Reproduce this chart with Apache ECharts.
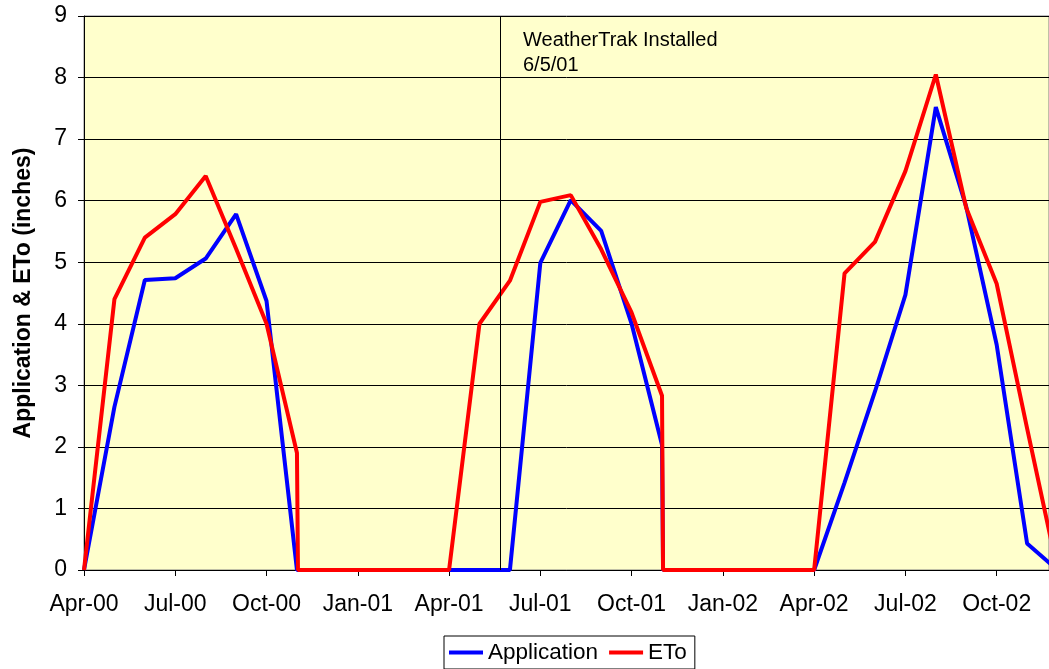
<!DOCTYPE html>
<html>
<head>
<meta charset="utf-8">
<script src="https://cdn.jsdelivr.net/npm/echarts@6/dist/echarts.min.js"></script>
<style>
  html, body { margin: 0; padding: 0; background: #fff; }
  #main { width: 1049px; height: 669px; }
</style>
</head>
<body>
<div id="main"></div>
<script>
// reading dates (a second date right after a reading marks the drop to zero)
var dates = [
  '2000-04-01', '2000-05-01', '2000-06-01', '2000-07-01', '2000-08-01', '2000-09-01',
  '2000-10-01', '2000-11-01', '2000-11-02', '2000-12-01', '2001-01-01', '2001-02-01',
  '2001-03-01', '2001-04-01', '2001-05-01', '2001-06-01', '2001-07-01', '2001-08-01',
  '2001-09-01', '2001-10-01', '2001-11-01', '2001-11-02', '2001-12-01', '2002-01-01',
  '2002-02-01', '2002-03-01', '2002-04-01', '2002-05-01', '2002-06-01', '2002-07-01',
  '2002-08-01', '2002-09-01', '2002-10-01', '2002-11-01', '2002-12-01'
];
var application = [
  0, 2.65, 4.71, 4.74, 5.06, 5.78,
  4.37, 0, 0, 0, 0, 0,
  0, 0, 0, 0, 4.99, 6.01,
  5.51, 4.0, 2.03, 0, 0, 0,
  0, 0, 0, 1.42, 2.9, 4.47,
  7.52, 5.9, 3.66, 0.43, 0
];
var eto = [
  0, 4.4, 5.4, 5.78, 6.4, 5.22,
  4.0, 1.9, 0, 0, 0, 0,
  0, 0, 4.0, 4.7, 5.98, 6.09,
  5.21, 4.18, 2.83, 0, 0, 0,
  0, 0, 0, 4.82, 5.33, 6.48,
  8.05, 5.88, 4.65, 2.3, 0
];
var tickLabels = ['Apr-00', 'Jul-00', 'Oct-00', 'Jan-01', 'Apr-01', 'Jul-01',
                  'Oct-01', 'Jan-02', 'Apr-02', 'Jul-02', 'Oct-02'];
var installDate = '2001-05-21';

// months since Apr-00
function monthPos(s) {
    var p = s.split('-');
    return (+p[0] - 2000) * 12 + (+p[1] - 4) + (+p[2] - 1) / 30;
}
function pairs(vals) {
    return vals.map(function (v, i) { return [monthPos(dates[i]), v]; });
}

var font = 'Liberation Sans';
var myChart = echarts.init(document.getElementById('main'));

var option = {
    animation: false,
    textStyle: { fontFamily: font },
    grid: {
        left: 84, right: 0, top: 16, bottom: 99,
        show: true,
        backgroundColor: '#FFFFCC',
        borderColor: '#808080',
        borderWidth: 1
    },
    legend: {
        left: 444, top: 636,
        padding: [5, 8, 5, 5],
        borderColor: '#000', borderWidth: 1,
        backgroundColor: '#fff',
        itemWidth: 34, itemHeight: 4, itemGap: 11,
        icon: 'rect',
        textStyle: { fontSize: 22.5, color: '#000', fontFamily: font },
        data: ['Application', 'ETo']
    },
    xAxis: {
        type: 'value',
        min: 0, max: 31.72, interval: 3,
        axisLine: { lineStyle: { color: '#000' } },
        axisTick: { show: true, length: 6, lineStyle: { color: '#000' } },
        splitLine: { show: false },
        axisLabel: {
            fontSize: 23, color: '#000', margin: 23, showMaxLabel: false,
            formatter: function (v) { return tickLabels[Math.round(v / 3)] || ''; }
        }
    },
    yAxis: {
        type: 'value',
        min: 0, max: 9, interval: 1,
        name: 'Application & ETo (inches)',
        nameLocation: 'middle',
        nameGap: 49,
        nameTextStyle: { fontSize: 23, fontWeight: 'bold', color: '#000', fontFamily: font },
        axisLine: { show: true, lineStyle: { color: '#000' } },
        axisTick: { show: true, length: 6, lineStyle: { color: '#000' } },
        splitLine: { lineStyle: { color: '#000', width: 1 } },
        axisLabel: { fontSize: 23, color: '#000', margin: 17 }
    },
    graphic: [{
        type: 'text',
        left: 523, top: 28,
        style: {
            text: 'WeatherTrak Installed\n6/5/01',
            font: '20px "Liberation Sans"',
            lineHeight: 25,
            fill: '#000'
        }
    }],
    series: [
        {
            name: 'Application',
            type: 'line',
            data: pairs(application),
            showSymbol: false,
            color: '#0000FF',
            lineStyle: { width: 4, color: '#0000FF' },
            markLine: {
                silent: true,
                symbol: 'none',
                label: { show: false },
                lineStyle: { color: '#000', width: 1, type: 'solid' },
                data: [{ xAxis: monthPos(installDate) }]
            }
        },
        {
            name: 'ETo',
            type: 'line',
            data: pairs(eto),
            showSymbol: false,
            color: '#FF0000',
            lineStyle: { width: 4, color: '#FF0000' }
        }
    ]
};

myChart.setOption(option);
</script>
</body>
</html>
